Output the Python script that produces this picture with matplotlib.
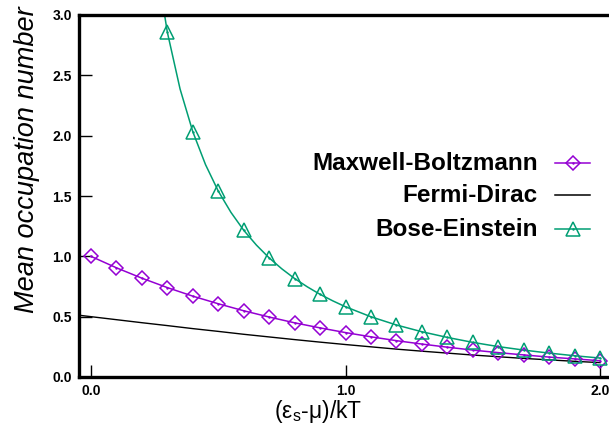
import matplotlib
matplotlib.use('Agg')
from matplotlib import pyplot as plt

plt.rcParams['font.family'] = ['Liberation Sans', 'DejaVu Sans']
plt.rcParams['mathtext.fontset'] = 'custom'
plt.rcParams['mathtext.rm'] = 'Liberation Sans'
plt.rcParams['mathtext.it'] = 'Liberation Sans:italic'

# (eps_s - mu)/kT sample points
x_pts = [0.0, 0.1, 0.2, 0.3, 0.4, 0.5, 0.6, 0.7, 0.8, 0.9, 1.0,
         1.1, 1.2, 1.3, 1.4, 1.5, 1.6, 1.7, 1.8, 1.9, 2.0]

# Maxwell-Boltzmann
mb_y = [1.000, 0.905, 0.819, 0.741, 0.670, 0.607, 0.549, 0.497, 0.449, 0.407, 0.368,
        0.333, 0.301, 0.273, 0.247, 0.223, 0.202, 0.183, 0.165, 0.150, 0.135]

# Fermi-Dirac (curve starts at the left border)
fd_x = [-0.047] + x_pts
fd_y = [0.512, 0.500, 0.475, 0.450, 0.426, 0.401, 0.378, 0.354, 0.332, 0.310, 0.289, 0.269,
        0.250, 0.231, 0.214, 0.198, 0.182, 0.168, 0.154, 0.142, 0.130, 0.119]

# Bose-Einstein markers
be_x = [0.3, 0.4, 0.5, 0.6, 0.7, 0.8, 0.9, 1.0, 1.1, 1.2, 1.3,
        1.4, 1.5, 1.6, 1.7, 1.8, 1.9, 2.0]
be_y = [2.858, 2.033, 1.541, 1.216, 0.987, 0.816, 0.685, 0.582, 0.499, 0.431, 0.375,
        0.328, 0.287, 0.252, 0.223, 0.198, 0.176, 0.157]

# Bose-Einstein curve (read on a finer step where it bends)
be_line_x = [0.25, 0.30, 0.35, 0.40, 0.45, 0.50, 0.55, 0.60, 0.65, 0.70, 0.75,
             0.80, 0.85, 0.90, 0.95, 1.00, 1.1, 1.2, 1.3, 1.4, 1.5, 1.6, 1.7,
             1.8, 1.9, 2.0]
be_line_y = [3.521, 2.858, 2.387, 2.033, 1.760, 1.541, 1.364, 1.216, 1.093, 0.987, 0.896,
             0.816, 0.747, 0.685, 0.631, 0.582, 0.499, 0.431, 0.375, 0.328, 0.287, 0.252,
             0.223, 0.198, 0.176, 0.157]

labels = ['Maxwell-Boltzmann', 'Fermi-Dirac', 'Bose-Einstein']
purple = '#9400d3'
green = '#009e73'

fig = plt.figure(figsize=(6.09, 4.28), dpi=100)
ax = fig.add_axes([79 / 609, 51 / 428, 1 - 79 / 609, 362 / 428])

# curves
ax.plot(x_pts, mb_y, color=purple, lw=1.1)
ax.plot(fd_x, fd_y, color='black', lw=1.0)
ax.plot(be_line_x, be_line_y, color=green, lw=1.1)

# open markers with a dot in the middle, gnuplot style
ax.plot(x_pts, mb_y, ls='none', marker='D', ms=7.5, mfc='none', mec=purple, mew=1.1)
ax.plot(x_pts, mb_y, ls='none', marker='.', ms=1.5, color=purple)
ax.plot(be_x, be_y, ls='none', marker='^', ms=10.5, mfc='none', mec=green, mew=1.1)
ax.plot(be_x, be_y, ls='none', marker='.', ms=1.5, color=green)

ax.set_xlim(-0.047, 2.035)
ax.set_ylim(0, 3.0)

ax.spines['right'].set_visible(False)
for s in ['left', 'top', 'bottom']:
    ax.spines[s].set_linewidth(2.4)

ax.set_xticks([0.0, 1.0, 2.0])
ax.set_yticks([0.0, 0.5, 1.0, 1.5, 2.0, 2.5, 3.0])
ax.set_xticklabels(['0.0', '1.0', '2.0'], fontweight='bold', fontsize=10)
ax.set_yticklabels(['0.0', '0.5', '1.0', '1.5', '2.0', '2.5', '3.0'], fontweight='bold', fontsize=10)
ax.tick_params(axis='both', direction='in', length=9, width=1.0, right=False, top=False)
ax.tick_params(axis='x', pad=5)
ax.tick_params(axis='y', pad=5)

# axis titles
fig.text(27 / 609, 1 - 160 / 428, 'Mean occupation number', rotation=90,
         style='italic', fontsize=19.5, ha='center', va='center')
fig.text(318 / 609, 1 - 418 / 428, '(ε$_{\\mathrm{s}}$-μ)/kT', fontsize=16.5,
         ha='center', va='baseline')

# legend: right aligned text, sample to the right
rows = [163, 195, 229]
styles = [dict(color=purple, marker='D', ms=7.5, mec=purple),
          dict(color='black', marker=None),
          dict(color=green, marker='^', ms=10.5, mec=green)]
for lab, r, st in zip(labels, rows, styles):
    yf = 1 - r / 428
    fig.text(538 / 609, yf, lab, fontsize=17.5, fontweight='bold', ha='right', va='center')
    fig.add_artist(plt.Line2D([555 / 609, 590 / 609], [yf, yf], lw=1.1, color=st['color'],
                              transform=fig.transFigure))
    if st['marker']:
        fig.add_artist(plt.Line2D([572.5 / 609], [yf], ls='none', marker=st['marker'],
                                  ms=st['ms'], mfc='none', mec=st['mec'], mew=1.1,
                                  transform=fig.transFigure))
        fig.add_artist(plt.Line2D([572.5 / 609], [yf], ls='none', marker='.',
                                  ms=1.5, color=st['color'], transform=fig.transFigure))

fig.savefig('out.png', dpi=100)
